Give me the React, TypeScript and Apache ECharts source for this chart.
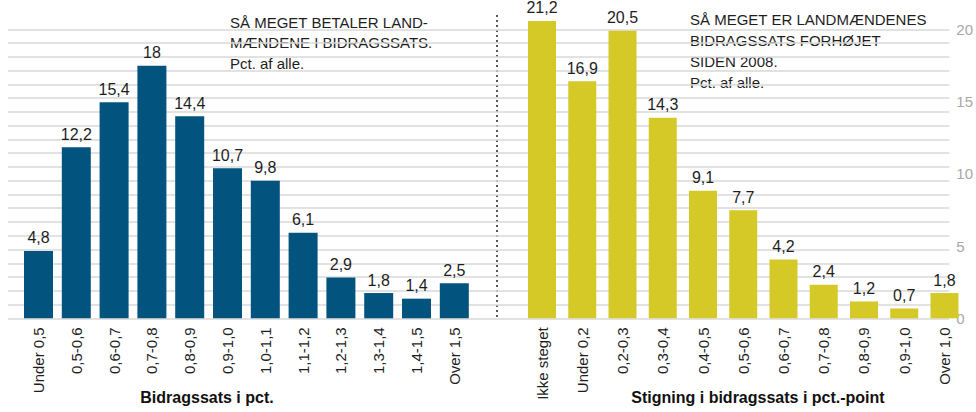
import React, { useEffect, useRef } from 'react';
import * as echarts from 'echarts';

const leftCategories = ['Under 0,5', '0,5-0,6', '0,6-0,7', '0,7-0,8', '0,8-0,9', '0,9-1,0', '1,0-1,1', '1,1-1,2', '1,2-1,3', '1,3-1,4', '1,4-1,5', 'Over 1,5'];
const leftValues = [4.8, 12.2, 15.4, 18, 14.4, 10.7, 9.8, 6.1, 2.9, 1.8, 1.4, 2.5];

const rightCategories = ['Ikke steget', 'Under 0,2', '0,2-0,3', '0,3-0,4', '0,4-0,5', '0,5-0,6', '0,6-0,7', '0,7-0,8', '0,8-0,9', '0,9-1,0', 'Over 1,0'];
const rightValues = [21.2, 16.9, 20.5, 14.3, 9.1, 7.7, 4.2, 2.4, 1.2, 0.7, 1.8];

const rightTickLabels = ['0', '5', '10', '15', '20'];

const leftTitle = 'SÅ MEGET BETALER LAND-\nMÆNDENE I BIDRAGSSATS.\nPct. af alle.';
const rightTitle = 'SÅ MEGET ER LANDMÆNDENES\nBIDRAGSSATS FORHØJET\nSIDEN 2008.\nPct. af alle.';
const leftAxisTitle = 'Bidragssats i pct.';
const rightAxisTitle = 'Stigning i bidragssats i pct.-point';

const SANS = "'Liberation Sans', Arial, sans-serif";
const NARROW = "'Liberation Sans Narrow', 'Liberation Sans', sans-serif";
const BLUE = '#02547f';
const YELLOW = '#d4c927';
const TEXT = '#1e1e1e';

const fmt = (v: number) => String(v).replace('.', ',');

export default function App() {
  const ref = useRef<HTMLDivElement>(null);
  useEffect(() => {
    if (!ref.current) return;
    const chart = echarts.init(ref.current, null, { renderer: 'svg' });
    const top = 29.3;
    const height = 289;
    const barAxisMax = 20.6;
    const catAxis = (gridIndex: number, data: string[]) => ({
      type: 'category',
      gridIndex,
      data,
      axisLine: { show: false },
      axisTick: { show: false },
      axisLabel: {
        rotate: 90,
        margin: 9,
        fontSize: 15,
        fontFamily: SANS,
        color: TEXT,
        interval: 0,
      },
    });
    const barLabel = {
      show: true,
      position: 'top',
      distance: 5,
      fontSize: 16,
      fontFamily: NARROW,
      color: TEXT,
      formatter: (p: any) => fmt(p.value),
    };
    chart.setOption({
      animation: false,
      backgroundColor: '#ffffff',
      grid: [
        { left: 8, top, width: 947, height },
        { left: 19.6, top, width: 453.6, height },
        { left: 521.9, top, width: 442.7, height },
      ],
      xAxis: [
        { type: 'value', gridIndex: 0, show: false, min: 0, max: 1 },
        catAxis(1, leftCategories),
        catAxis(2, rightCategories),
      ],
      yAxis: [
        {
          type: 'value',
          gridIndex: 0,
          min: 0,
          max: 21,
          interval: 1,
          axisLine: { show: false },
          axisTick: { show: false },
          axisLabel: { show: false },
          splitLine: { show: true, lineStyle: { color: '#d9d9d9', width: 1.5 } },
        },
        {
          type: 'value',
          gridIndex: 0,
          position: 'right',
          min: 0,
          max: 20,
          interval: 5,
          axisLine: { show: false },
          axisTick: { show: false },
          splitLine: { show: false },
          axisLabel: {
            margin: 7,
            fontSize: 15,
            fontFamily: NARROW,
            color: '#a8a8a8',
            formatter: (v: number) => rightTickLabels[Math.round(v / 5)] ?? '',
          },
        },
        { type: 'value', gridIndex: 1, min: 0, max: barAxisMax, show: false },
        { type: 'value', gridIndex: 2, min: 0, max: barAxisMax, show: false },
      ],
      series: [
        {
          type: 'bar',
          xAxisIndex: 1,
          yAxisIndex: 2,
          data: leftValues,
          barWidth: 29,
          clip: false,
          itemStyle: { color: BLUE },
          label: barLabel,
        },
        {
          type: 'bar',
          xAxisIndex: 2,
          yAxisIndex: 3,
          data: rightValues,
          barWidth: 28,
          clip: false,
          itemStyle: { color: YELLOW },
          label: barLabel,
        },
      ],
      graphic: [
        {
          type: 'line',
          shape: { x1: 497, y1: 15, x2: 497, y2: 317 },
          style: { stroke: '#222', lineWidth: 1.5, lineDash: [2, 3] },
        },
        {
          type: 'text',
          x: 230,
          y: 12,
          style: {
            text: leftTitle,
            font: `15px ${SANS}`,
            fill: TEXT,
            lineHeight: 20.5,
            textAlign: 'left',
            textVerticalAlign: 'top',
          },
        },
        {
          type: 'text',
          x: 690,
          y: 9,
          style: {
            text: rightTitle,
            font: `15px ${SANS}`,
            fill: TEXT,
            lineHeight: 21,
            textAlign: 'left',
            textVerticalAlign: 'top',
          },
        },
        {
          type: 'text',
          x: 207,
          y: 397,
          style: {
            text: leftAxisTitle,
            font: `bold 16px ${SANS}`,
            fill: '#111',
            textAlign: 'center',
            textVerticalAlign: 'middle',
          },
        },
        {
          type: 'text',
          x: 758,
          y: 397,
          style: {
            text: rightAxisTitle,
            font: `bold 16px ${SANS}`,
            fill: '#111',
            textAlign: 'center',
            textVerticalAlign: 'middle',
          },
        },
      ],
    });
    return () => chart.dispose();
  }, []);
  return (
    <div
      ref={ref}
      style={{ position: 'fixed', left: 0, top: 0, width: 976, height: 412 }}
    />
  );
}
